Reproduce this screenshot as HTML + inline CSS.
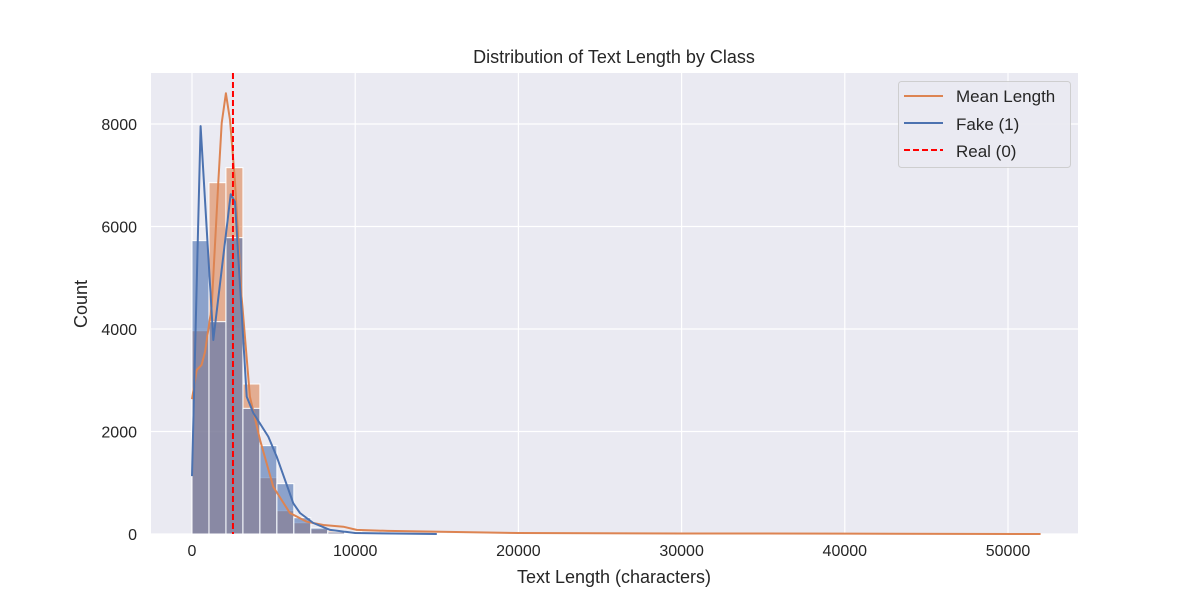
<!DOCTYPE html>
<html><head><meta charset="utf-8">
<style>
body{margin:0;background:#fff;}
svg text{font-family:"Liberation Sans",sans-serif;fill:#262626;}
</style></head>
<body>
<svg id="chart" width="1200" height="600" xmlns="http://www.w3.org/2000/svg">
<rect x="151" y="73" width="927" height="461" fill="#eaeaf2"/>
<g id="grid"></g>
<g id="bars"></g>
<g id="lines"></g>
<g id="ticks"></g>
<text x="614" y="63" font-size="18" text-anchor="middle">Distribution of Text Length by Class</text>
<text x="614" y="583" font-size="18" text-anchor="middle">Text Length (characters)</text>
<text x="87" y="304" font-size="18" text-anchor="middle" transform="rotate(-90 87 304)">Count</text>
<g>
<rect x="898.5" y="81.5" width="172" height="86" rx="3" fill="#eaeaf2" stroke="#cccccc" opacity="0.9"/>
<g>
<line x1="904" y1="96" x2="943" y2="96" stroke="#dd8452" stroke-width="2"/>
<text x="956" y="102" font-size="17">Mean Length</text></g>
<g>
<line x1="904" y1="123" x2="943" y2="123" stroke="#4c72b0" stroke-width="2"/>
<text x="956" y="130" font-size="17">Fake (1)</text></g>
<g>
<line x1="904" y1="150" x2="943" y2="150" stroke="#ff0000" stroke-width="2" stroke-dasharray="6,3"/>
<text x="956" y="157" font-size="17">Real (0)</text></g>
</g>
</svg>
<script>
const binWidth = 1040;
const realCounts = [3967,6855,7148,2927,1099,455,220,100,70,50,30,20,15,10,8,6,5,4,3,3,2,2,2,1,1,1,1,1,1,1,1,1,1,1,1,1,1,1,1,1,0,0,0,0,0,0,0,0,0,1];
const fakeCounts = [5724,4143,5782,2452,1724,982,318,117,40,20,10,6,4,3,2,1,1,1,1,0,0,0,0,0,0,0,0,0,0,0,0,0,0,0,0,0,0,0,0,0,0,0,0,0,0,0,0,0,0,0];
const realKdeX = [0,290,590,800,1210,1620,1820,2080,2330,2630,3040,3550,4170,4980,6000,7030,8050,9270,10090,12000,20000,30000,40000,52000];
const realKdeY = [2630,3200,3300,3560,4440,6900,8020,8600,8080,6900,4630,2680,1830,920,410,240,175,143,80,60,20,10,8,0];
const fakeKdeX = [0,530,1305,2370,2635,3350,3760,4675,5190,6210,6620,7430,8460,10000,15000];
const fakeKdeY = [1130,7960,3785,6630,6480,2680,2360,1900,1510,600,410,215,80,20,0];
const meanLength = 2510;
const xTicks = [0,10000,20000,30000,40000,50000];
const yTicks = [0,2000,4000,6000,8000];

const NS="http://www.w3.org/2000/svg";
const X = v => 192 + v*0.01632;
const Y = v => 534 - v*0.05125;
function mk(tag, parent, attrs){const e=document.createElementNS(NS,tag);for(const k in attrs)e.setAttribute(k,attrs[k]);document.getElementById(parent).appendChild(e);return e;}

xTicks.forEach(t=>{
  const l=mk('line','grid',{x1:X(t),x2:X(t),y1:73,y2:534,stroke:'#fff','stroke-width':1.2});
  
  
  const tx=mk('text','ticks',{x:X(t),y:556,'font-size':16,'text-anchor':'middle'});
  tx.textContent=t;
  
  
});
yTicks.forEach(t=>{
  const l=mk('line','grid',{x1:151,x2:1078,y1:Y(t),y2:Y(t),stroke:'#fff','stroke-width':1.2});
  
  
  const tx=mk('text','ticks',{x:137,y:Y(t)+6,'font-size':16,'text-anchor':'end'});
  tx.textContent=t;
  
  
});
function bars(counts,color,name){
  counts.forEach((c,i)=>{
    if(c<=0)return;
    const x0=X(i*binWidth),x1=X((i+1)*binWidth);
    const r=mk('rect','bars',{x:x0,y:Y(c),width:x1-x0,height:Y(0)-Y(c),fill:color,'fill-opacity':0.6,stroke:'#fff','stroke-width':1});
    
    
  });
}
bars(realCounts,'#dd8452','real-bar');
bars(fakeCounts,'#4c72b0','fake-bar');
function line(xs,ys,color,name){
  const d=xs.map((x,i)=>(i?'L':'M')+X(x).toFixed(1)+','+Y(ys[i]).toFixed(1)).join(' ');
  const p=mk('path','lines',{d:d,fill:'none',stroke:color,'stroke-width':2,'stroke-linejoin':'round'});
  
  
}
line(realKdeX,realKdeY,'#dd8452','real-kde-line');
line(fakeKdeX,fakeKdeY,'#4c72b0','fake-kde-line');
const m=mk('line','lines',{x1:X(meanLength),x2:X(meanLength),y1:73,y2:534,stroke:'#ff0000','stroke-width':2,'stroke-dasharray':'6,3'});


</script>
</body></html>
